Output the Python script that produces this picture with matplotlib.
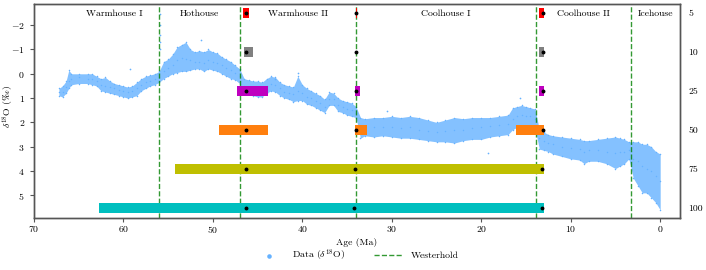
import matplotlib
matplotlib.use("Agg")
import matplotlib.pyplot as plt

plt.rcParams['font.family'] = ['cmr10', 'DejaVu Serif']
plt.rcParams['mathtext.fontset'] = 'cm'
plt.rcParams['axes.formatter.use_mathtext'] = True
plt.rcParams['font.size'] = 7
plt.rcParams['axes.unicode_minus'] = True

# ---- data ----
age = [67.2, 66.8, 66.4, 66.1, 65.8, 65.0, 64.0, 63.5, 63.0, 62.5, 62.0, 61.5, 61.0, 60.5,
       60.0, 59.5, 59.0, 58.5, 58.0, 57.5, 57.0, 56.5, 56.0, 55.5, 55.0, 54.5, 54.0, 53.5,
       53.0, 52.5, 52.0, 51.5, 51.0, 50.5, 50.0, 49.5, 49.0, 48.5, 48.0, 47.5, 47.0, 46.5,
       46.0, 45.5, 45.0, 44.5, 44.0, 43.5, 43.0, 42.5, 42.0, 41.5, 41.0, 40.5, 40.0, 39.5,
       39.0, 38.5, 38.0, 37.5, 37.0, 36.5, 36.0, 35.5, 35.0, 34.5, 34.0, 33.5, 33.0, 32.0,
       31.0, 30.0, 29.0, 28.0, 27.0, 26.0, 25.0, 24.0, 23.0, 22.0, 21.0, 20.0, 19.0, 18.0,
       17.0, 16.5, 16.0, 15.5, 15.0, 14.5, 14.0, 13.5, 13.0, 12.5, 12.0, 11.0, 10.0, 9.0,
       8.5, 8.0, 7.0, 6.0, 5.0, 4.5, 4.0, 3.5, 3.0, 2.5, 2.0, 1.5, 1.0, 0.5, 0.0]
d18o_top = [0.6, 0.5, 0.3, -0.15, 0.0, 0.0, 0.0, 0.0, 0.1, 0.2, 0.15, 0.3, 0.4, 0.45,
            0.5, 0.55, 0.5, 0.35, 0.2, 0.1, 0.05, 0.0, -0.1, -0.5, -0.6, -0.8, -1.1, -1.2,
            -1.3, -1.0, -0.9, -0.95, -0.9, -1.0, -0.9, -0.85, -0.7, -0.6, -0.5, -0.35, -0.2, 0.2,
            0.25, 0.3, 0.3, 0.35, 0.2, 0.1, 0.15, 0.35, 0.45, 0.5, 0.55, 0.1, 0.45, 0.6,
            0.7, 0.8, 0.9, 1.05, 0.75, 0.8, 1.0, 1.1, 1.15, 1.2, 1.35, 1.8, 1.85, 1.8,
            1.8, 1.75, 1.8, 1.75, 1.8, 1.9, 2.0, 1.9, 1.8, 1.85, 1.8, 1.8, 1.8, 1.75,
            1.7, 1.4, 1.35, 1.3, 1.35, 1.4, 1.45, 2.3, 2.4, 2.5, 2.55, 2.6, 2.65, 2.7,
            2.75, 2.75, 2.7, 2.65, 2.6, 2.65, 2.7, 2.8, 2.8, 2.8, 2.9, 2.9, 3.0, 3.2, 3.3]
d18o_mid = [0.75, 0.75, 0.55, 0.3, 0.2, 0.15, 0.2, 0.2, 0.3, 0.45, 0.5, 0.55, 0.6, 0.65,
            0.7, 0.75, 0.7, 0.6, 0.45, 0.35, 0.3, 0.2, 0.15, -0.1, -0.25, -0.35, -0.55, -0.65,
            -0.6, -0.55, -0.5, -0.5, -0.45, -0.55, -0.5, -0.45, -0.35, -0.25, -0.15, -0.05, 0.1, 0.5,
            0.55, 0.6, 0.65, 0.7, 0.5, 0.4, 0.45, 0.6, 0.75, 0.8, 0.85, 0.7, 0.8, 0.95,
            1.0, 1.1, 1.2, 1.35, 1.05, 1.05, 1.3, 1.35, 1.45, 1.5, 1.6, 2.25, 2.2, 2.2,
            2.2, 2.2, 2.25, 2.2, 2.3, 2.35, 2.4, 2.35, 2.3, 2.3, 2.25, 2.2, 2.15, 2.1,
            2.05, 1.85, 1.75, 1.7, 1.75, 1.75, 1.85, 2.65, 2.75, 2.85, 2.9, 3.0, 3.05, 3.1,
            3.2, 3.15, 3.15, 3.2, 3.25, 3.2, 3.2, 3.15, 3.5, 3.6, 3.8, 3.9, 4.0, 4.2, 4.4]
d18o_bot = [0.9, 0.95, 0.8, 0.6, 0.45, 0.4, 0.4, 0.45, 0.5, 0.7, 0.75, 0.8, 0.85, 0.9,
            0.95, 1.0, 0.95, 0.9, 0.7, 0.6, 0.5, 0.45, 0.35, 0.2, 0.1, 0.0, -0.05, -0.1,
            -0.1, -0.15, -0.2, -0.2, -0.1, -0.2, -0.15, -0.1, 0.0, 0.1, 0.2, 0.25, 0.4, 0.75,
            0.8, 0.9, 0.95, 0.95, 0.8, 0.7, 0.75, 0.9, 1.0, 1.05, 1.15, 1.1, 1.1, 1.25,
            1.3, 1.4, 1.5, 1.6, 1.3, 1.3, 1.55, 1.6, 1.7, 1.75, 1.8, 2.65, 2.55, 2.6,
            2.55, 2.6, 2.65, 2.65, 2.7, 2.75, 2.8, 2.8, 2.85, 2.75, 2.7, 2.7, 2.6, 2.55,
            2.5, 2.3, 2.2, 2.15, 2.15, 2.15, 2.25, 3.1, 3.15, 3.2, 3.3, 3.4, 3.5, 3.55,
            3.7, 3.6, 3.6, 3.7, 3.9, 3.8, 3.7, 3.5, 4.3, 4.6, 4.9, 4.9, 5.1, 5.3, 5.6]
outlier_age = [55.95, 55.95, 55.9, 55.9, 55.85, 59.3, 51.3, 40.5, 15.7, 19.3, 43.0, 30.5]
outlier_d18o = [-2.45, -2.0, -1.6, -1.3, -1.0, -0.2, -1.4, -0.05, 1.0, 3.25, 0.2, 1.55]

# Westerhold climate-state boundaries
boundaries = [56.0, 47.0, 34.0, 13.9, 3.3]
state_names = ['Warmhouse I', 'Hothouse', 'Warmhouse II', 'Coolhouse I', 'Coolhouse II', 'Icehouse']
state_pos = [61.0, 51.5, 40.5, 23.95, 8.6, 0.55]

# change-point intervals per penalty row (start, end in Ma)
row_labels = ['5', '10', '25', '50', '75', '100']
row_colors = ['red', 'gray', 'm', '#ff7f0e', 'y', 'c']
row_intervals = [
    [(46.65, 46.0), (34.05, 33.9), (13.5, 13.0)],
    [(46.5, 45.55), (34.05, 33.95), (13.53, 13.0)],
    [(47.3, 43.8), (34.1, 33.5), (13.5, 13.0)],
    [(49.3, 43.8), (34.1, 32.8), (16.1, 13.0)],
    [(54.2, 13.0)],
    [(62.7, 13.0)],
]
row_points = [
    [46.3, 34.0, 13.05],
    [46.3, 34.0, 13.05],
    [46.3, 34.0, 13.05],
    [46.3, 34.0, 13.05],
    [46.33, 34.07, 13.2],
    [46.3, 34.2, 13.16],
]

data_color = '#66b2ff'

fig = plt.figure(figsize=(7.06, 2.70), dpi=100)
ax = fig.add_axes([0.048, 0.193, 0.915, 0.792])

ax.fill_between(age, d18o_top, d18o_bot, color=data_color, lw=0, alpha=0.8, zorder=1)
for arr in (d18o_top, d18o_bot):
    ax.scatter(age, arr, s=1.2, color=data_color, lw=0, zorder=1)
ax.scatter(outlier_age, outlier_d18o, s=1.5, color=data_color, lw=0, zorder=1)
sc = ax.scatter(age, d18o_mid, s=1.2, color=data_color, lw=0, zorder=1, label=r'Data ($\delta^{18}$O)')

for i, b in enumerate(boundaries):
    ax.axvline(b, color='green', ls='--', lw=1.0, alpha=0.8, zorder=2,
               label='Westerhold' if i == 0 else None)

ax.set_xlim(70, -2.2)
ax.set_ylim(5.93, -2.87)
ax.set_xticks([70, 60, 50, 40, 30, 20, 10, 0])
ax.set_yticks([-2, -1, 0, 1, 2, 3, 4, 5])
ax.tick_params(axis='x', pad=1.5)
ax.set_xlabel('Age (Ma)', labelpad=2)
ax.set_ylabel('$\\delta^{18}$O ($\u2030$)')
ax.yaxis.set_label_coords(-0.027, 0.52)
for name, pos in zip(state_names, state_pos):
    ax.text(pos, 0.975, name, transform=ax.get_xaxis_transform(), ha='center', va='top', fontsize=7)

ax2 = ax.twinx()
for r, (ints, col) in enumerate(zip(row_intervals, row_colors)):
    for (a0, a1) in ints:
        ax2.barh(r, a1 - a0, left=a0, height=0.26, color=col, lw=0, zorder=3)
    ax2.plot(row_points[r], [r] * len(row_points[r]), 'o', color='black', ms=1.8, zorder=4)
ax2.set_ylim(5.26, -0.22)
ax2.set_yticks(range(len(row_labels)))
ax2.set_yticklabels(row_labels)
ax2.tick_params(axis='y', length=0, pad=6)

for a in (ax, ax2):
    for s in a.spines.values():
        s.set_color('#555555')
        s.set_linewidth(1.0)
ax.tick_params(length=3, color='#555555')

h1, l1 = ax.get_legend_handles_labels()
ax.legend(h1, l1, loc='center', bbox_to_anchor=(0.5, -0.175), ncol=2, frameon=False,
          markerscale=3, handlelength=3, columnspacing=3)

fig.savefig('out.png', dpi=100)
